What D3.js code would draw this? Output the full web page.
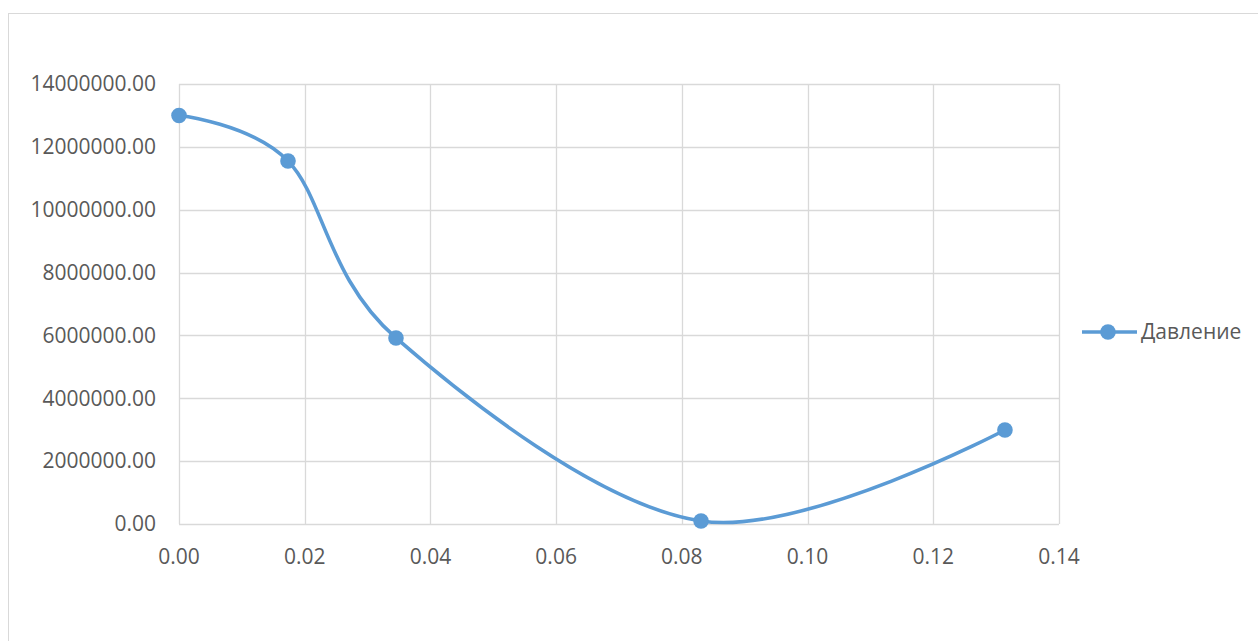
<!DOCTYPE html>
<html><head><meta charset="utf-8">
<script src="https://cdn.jsdelivr.net/npm/d3@7"></script>
<style>body{margin:0;background:#fff;} text{font-family:"Open Sans",sans-serif;fill:#595959;}</style>
</head><body>
<svg id="c" width="1258" height="641"></svg>
<script>
const xValues = [0.0, 0.01734, 0.03452, 0.08305, 0.1314];
const pressure = [13000000, 11550000, 5920000, 95000, 2990000];
const xTicks = [0, 0.02, 0.04, 0.06, 0.08, 0.10, 0.12, 0.14];
const yTicks = [0, 2000000, 4000000, 6000000, 8000000, 10000000, 12000000, 14000000];
const seriesName = "Давление";

const svg = d3.select("#c");
const color = "#5B9BD5";
const grid = "#D9D9D9";
svg.append("rect").attr("x",8.5).attr("y",13.5).attr("width",1300).attr("height",700)
  .attr("fill","none").attr("stroke","#D9D9D9");

const L=179, R=1059, T=84, B=524;
const x = d3.scaleLinear().domain([0,0.14]).range([L,R]);
const y = d3.scaleLinear().domain([0,14000000]).range([B,T]);

const g = svg.append("g");
g.selectAll(".hg").data(yTicks).join("line")
  .attr("x1",L).attr("x2",R).attr("y1",d=>Math.round(y(d))+0.5).attr("y2",d=>Math.round(y(d))+0.5)
  .attr("stroke",grid).attr("stroke-width",1.3);
g.selectAll(".vg").data(xTicks).join("line")
  .attr("y1",T).attr("y2",B).attr("x1",d=>Math.round(x(d))+0.5).attr("x2",d=>Math.round(x(d))+0.5)
  .attr("stroke",grid).attr("stroke-width",1.3);

g.selectAll(".yl").data(yTicks).join("text")
  .attr("x",156).attr("y",d=>y(d)).attr("dy","0.35em").attr("text-anchor","end")
  .style("font-size","21px").text(d=>d3.format(".2f")(d));
g.selectAll(".xl").data(xTicks).join("text")
  .attr("x",d=>x(d)).attr("y",557).attr("dy","0.35em").attr("text-anchor","middle")
  .style("font-size","21px").text(d=>d3.format(".2f")(d));

const pts = xValues.map((v,i)=>[v,pressure[i]]);
const line = d3.line().x(d=>x(d[0])).y(d=>y(d[1])).curve(d3.curveCatmullRom.alpha(0));
g.append("path").datum(pts).attr("d",line).attr("fill","none").attr("stroke",color)
  .attr("stroke-width",3.6).attr("stroke-linecap","round");
g.selectAll(".pt").data(pts).join("circle")
  .attr("cx",d=>x(d[0])).attr("cy",d=>y(d[1])).attr("r",7.8).attr("fill",color);

const lg = svg.append("g");
lg.append("line").attr("x1",1082).attr("x2",1137).attr("y1",332).attr("y2",332)
  .attr("stroke",color).attr("stroke-width",3.6);
lg.append("circle").attr("cx",1108).attr("cy",332).attr("r",7.8).attr("fill",color);
lg.append("text").attr("x",1141).attr("y",332).attr("dy","0.35em").style("font-size","21px").text(seriesName);
</script>
</body></html>
